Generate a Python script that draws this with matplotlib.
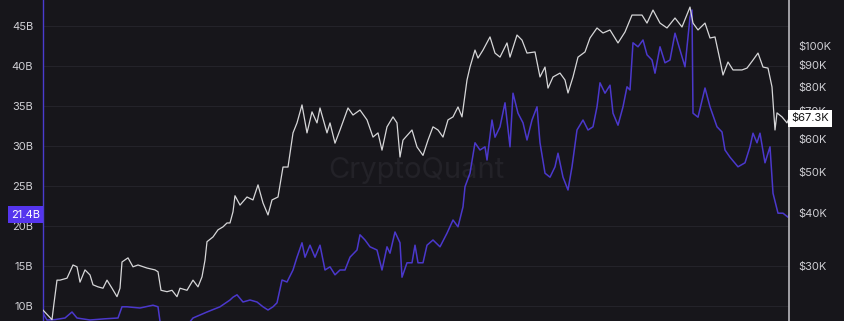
import matplotlib.pyplot as plt
import numpy as np

plt.rcParams['font.family'] = ['Inter', 'DejaVu Sans']

# sample positions along the time axis (arbitrary day-like units)
t_price = [0, 9, 11, 14, 17, 24, 30, 34, 37, 42, 47, 50, 55, 60, 64, 69, 74, 77, 79, 85,
           90, 95, 104, 112, 115, 118, 124, 129, 134, 137, 144, 150, 155, 159, 162, 164, 170, 175,
           180, 184, 187, 190, 192, 197, 204, 210, 215, 220, 225, 229, 235, 240, 245, 250,
           254, 259, 264, 269, 274, 277, 284, 287, 292, 297, 305, 310, 317, 324, 330, 335,
           339, 344, 350, 354, 357, 360, 369, 374, 380, 385, 390, 395, 400, 405, 410, 415,
           419, 424, 427, 432, 435, 440, 447, 452, 457, 464, 467, 474, 479, 484, 492, 497,
           502, 505, 510, 517, 522, 525, 530, 535, 542, 547, 554, 560, 567, 575, 582, 589,
           599, 604, 610, 617, 624, 632, 639, 647, 650, 655, 662, 667, 672, 677, 680, 685,
           690, 699, 704, 710, 715, 720, 725, 729, 732, 734, 739, 744, 746]
price_k = [23.5, 22.3, 24.4, 27.7, 27.7, 28.0, 30.1, 29.8, 27.4, 29.3, 28.5, 27.0, 26.7, 26.5,
           27.7, 26.5, 25.3, 26.5, 30.6, 31.3, 29.8, 30.1, 29.6, 29.3, 29.0, 26.2, 26.0, 26.2,
           25.3, 26.5, 26.2, 27.7, 26.7, 28.2, 30.9, 34.2, 35.1, 36.5, 37.1, 37.9, 37.9, 40.3,
           44.0, 41.8, 43.7, 43.0, 46.7, 42.3, 39.6, 43.0, 43.7, 51.5, 51.5, 62.1, 65.6, 72.4,
           62.1, 69.7, 65.6, 71.2, 62.1, 65.6, 58.7, 63.1, 71.2, 68.5, 70.4, 66.7, 60.7, 62.1,
           56.5, 64.2, 67.8, 65.6, 54.4, 59.7, 63.1, 57.5, 54.9, 59.7, 64.2, 63.1, 60.7, 66.7,
           67.8, 71.6, 67.8, 83.0, 89.1, 97.8, 93.6, 97.8, 105.1, 96.2, 94.1, 101.7, 94.1, 106.2,
           103.3, 96.2, 96.8, 84.4, 89.1, 79.4, 84.4, 86.2, 83.0, 77.3, 84.4, 94.1, 96.8, 104.5,
           110.4, 107.4, 109.2, 101.7, 108.0, 118.5, 118.5, 113.4, 121.8, 113.4, 110.4, 116.6,
           111.0, 123.8, 113.4, 109.2, 113.4, 104.5, 105.1, 92.6, 85.3, 91.6, 87.7, 87.7, 88.6,
           92.6, 96.2, 89.1, 88.6, 79.9, 63.1, 69.3, 67.8, 65.6, 67.3]

t_flow = [0, 4, 12, 22, 29, 34, 47, 62, 75, 79, 84, 97, 110, 115, 117, 122, 142, 150, 164,
          177, 187, 190, 194, 200, 207, 214, 220, 225, 230, 234, 239, 244, 250, 254, 259, 262,
          267, 272, 277, 282, 287, 292, 297, 302, 307, 314, 317, 322, 327, 334, 339, 344, 347,
          352, 357, 359, 364, 369, 372, 375, 380, 384, 390, 397, 404, 410, 415, 420, 422, 427,
          432, 437, 442, 444, 449, 452, 457, 462, 467, 470, 475, 480, 484, 489, 494, 497, 502,
          507, 512, 515, 520, 525, 529, 534, 540, 545, 550, 554, 557, 562, 567, 570, 575, 580,
          584, 587, 590, 595, 600, 604, 609, 612, 617, 622, 627, 632, 637, 642, 647, 649, 650,
          655, 662, 667, 674, 679, 682, 687, 695, 702, 707, 710, 714, 717, 722, 727, 730, 735,
          740, 745, 746]
flow_b = [9.1, 8.25, 8.3, 8.5, 9.25, 8.5, 8.25, 8.4, 8.5, 9.9, 9.9, 9.75, 10.1, 9.9, 8.1,
          7.0, 7.25, 8.5, 9.25, 9.9, 10.75, 11.1, 11.4, 10.5, 10.75, 10.5, 9.9, 9.5, 9.9, 10.4,
          13.25, 13.0, 14.5, 16.1, 17.9, 16.1, 17.6, 16.1, 17.6, 14.5, 14.9, 13.9, 14.5, 14.5,
          16.1, 17.0, 18.9, 18.25, 17.4, 17.0, 14.5, 17.4, 16.6, 19.25, 17.9, 13.6, 15.4, 15.4,
          17.6, 15.4, 15.4, 17.6, 18.25, 17.4, 19.1, 20.75, 19.9, 22.4, 24.9, 26.6, 30.4, 29.5,
          29.9, 28.25, 33.25, 31.1, 32.4, 35.4, 29.9, 36.6, 34.1, 32.9, 30.75, 33.25, 34.9,
          30.4, 26.6, 26.1, 27.4, 29.1, 26.1, 24.5, 27.4, 32.0, 33.25, 32.0, 32.4, 34.9, 37.9,
          36.6, 37.6, 34.1, 32.6, 34.9, 37.4, 37.0, 42.9, 42.4, 43.25, 41.4, 40.75, 39.1, 42.4,
          40.4, 40.75, 44.1, 42.0, 39.9, 46.1, 47.0, 34.1, 33.6, 37.25, 34.9, 32.4, 31.75, 29.5,
          28.6, 27.4, 27.9, 29.9, 31.6, 30.4, 31.6, 27.9, 29.9, 24.1, 21.6, 21.6, 21.1, 21.4]

left_ticks = [10, 15, 20, 25, 30, 35, 40, 45]
right_ticks = [30, 40, 50, 60, 70, 80, 90, 100]

bg = "#17161b"
purple = "#4b38cc"

fig = plt.figure(figsize=(8.45, 3.21), dpi=100, facecolor=bg)
ax = fig.add_axes([43 / 845, 0, 746 / 845, 1])
ax.set_facecolor(bg)
ax2 = ax.twinx()

ax.plot(t_flow, flow_b, color=purple, lw=1.1, zorder=3)
ax.set_ylim(8.125, 48.25)
ax.set_xlim(0, 746)
ax.set_yticks(left_ticks)
ax.set_yticklabels([f"{v}B" for v in left_ticks])
ax.grid(axis="y", color="#24232a", lw=0.8)
ax.set_axisbelow(True)
ax.tick_params(axis="y", length=0, colors="#cfcfd4", labelsize=8, pad=7)
ax.tick_params(axis="x", bottom=False, labelbottom=False)

ax2.plot(t_price, price_k, color="#d6d6d8", lw=0.9, zorder=4)
ax2.set_yscale("log")
ax2.set_ylim(22.14, 128.7)
ax2.set_yticks(right_ticks)
ax2.set_yticklabels([f"${v}K" for v in right_ticks])
ax2.minorticks_off()
ax2.tick_params(axis="y", length=0, colors="#cfcfd4", labelsize=8, pad=7)

for a in (ax, ax2):
    for s in a.spines.values():
        s.set_visible(False)
ax.spines["left"].set_visible(True)
ax.spines["left"].set_color("#4a3bd0")
ax.spines["left"].set_linewidth(1.0)
ax2.spines["right"].set_visible(True)
ax2.spines["right"].set_color("#b8b8bc")
ax2.spines["right"].set_linewidth(1.2)

ax.text(0.5, 0.47, "CryptoQuant", transform=ax.transAxes, ha="center", va="center",
        fontsize=21, color="#232228", zorder=1)

ax.text(-0.004, flow_b[-1], f"{flow_b[-1]}B", transform=ax.get_yaxis_transform(),
        ha="right", va="center", fontsize=8, color="white",
        bbox=dict(boxstyle="square,pad=0.3", fc="#5535ee", ec="none"))
ax2.text(1.003, price_k[-1], f"${price_k[-1]}K", transform=ax2.get_yaxis_transform(),
         ha="left", va="center", fontsize=8, color="#111111",
         bbox=dict(boxstyle="square,pad=0.3", fc="white", ec="none"), zorder=10)

fig.savefig("out.png", dpi=100, facecolor=bg)
